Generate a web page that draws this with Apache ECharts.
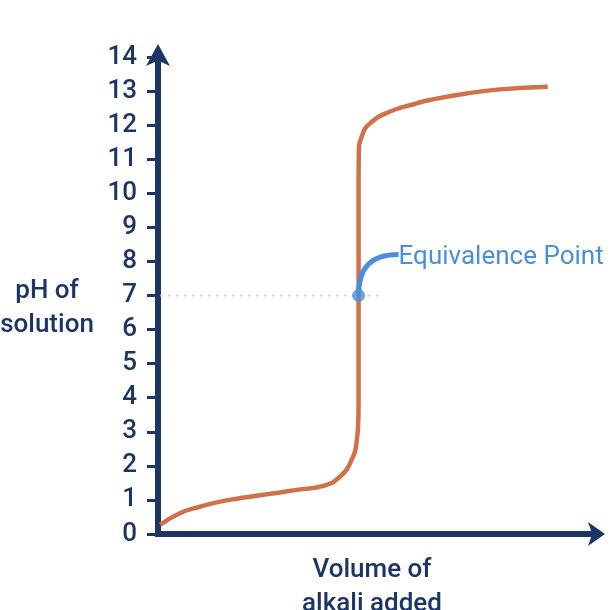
<!DOCTYPE html>
<html>
<head>
<meta charset="utf-8">
<script src="https://cdn.jsdelivr.net/npm/echarts@6/dist/echarts.min.js"></script>
<style>
  html, body { margin: 0; padding: 0; background: #fff; }
  #main { width: 614px; height: 610px; }
</style>
</head>
<body>
<div id="main"></div>
<script>
// titration curve (x = volume, arbitrary 0-100)
var volume = [0.5, 5, 9.6, 14.2, 18.8, 23.3, 27.9, 32.5, 37.8, 41.6, 44.3, 45.5, 45.85, 45.9,
  45.9, 45.9, 45.95, 46.6, 48.5, 53.1, 59.2, 62.2, 70.6, 78.3, 89.2]
var ph = [0.27, 0.61, 0.8, 0.95, 1.05, 1.14, 1.22, 1.31, 1.41, 1.68, 2.17, 2.76, 3.44, 3.93,
  7, 10.39, 11.17, 11.66, 12.05, 12.4, 12.64, 12.74, 12.93, 13.05, 13.13]
var yTicks = [0, 1, 2, 3, 4, 5, 6, 7, 8, 9, 10, 11, 12, 13, 14]
var eqPoint = [45.9, 7]
var guideX = [0.5, 51.5]

var navy = '#1b3566'
var orange = '#d0714b'
var blue = '#4b8edb'
var font = 'Roboto'

var curve = volume.map(function (v, i) { return [v, ph[i]] })
var guide = guideX.map(function (v) { return [v, eqPoint[1]] })

var myChart = echarts.init(document.getElementById('main'))
myChart.setOption({
  animation: false,
  grid: { left: 158, right: 19, top: 57, bottom: 76 },
  xAxis: {
    type: 'value',
    min: 0,
    max: 100,
    axisLine: {
      show: true,
      symbol: ['none', 'arrow'],
      symbolSize: [18, 17],
      symbolOffset: [0, 10],
      lineStyle: { color: navy, width: 6, cap: 'square' }
    },
    axisTick: { show: false },
    axisLabel: { show: false },
    splitLine: { show: false }
  },
  yAxis: {
    type: 'value',
    min: yTicks[0],
    max: yTicks[yTicks.length - 1],
    interval: 1,
    axisLine: {
      show: true,
      symbol: ['none', 'arrow'],
      symbolSize: [18, 22],
      symbolOffset: [0, 13],
      lineStyle: { color: navy, width: 6, cap: 'square' }
    },
    axisTick: { show: true, length: 11, lineStyle: { color: navy, width: 3 } },
    axisLabel: { color: navy, fontSize: 26, fontFamily: font, fontWeight: 500, margin: 21 },
    splitLine: { show: false }
  },
  series: [
    {
      // dotted guide at pH 7
      type: 'line',
      data: guide,
      symbol: 'none',
      silent: true,
      lineStyle: { color: '#cfcfcf', width: 2, type: [2, 6] },
      z: 1
    },
    {
      type: 'line',
      data: curve,
      symbol: 'none',
      smooth: 0.5,
      lineStyle: { color: orange, width: 4.5 },
      z: 2
    },
    {
      type: 'scatter',
      data: [eqPoint],
      symbol: 'circle',
      symbolSize: 13,
      itemStyle: { color: blue },
      z: 4
    }
  ]
})

// annotation and axis titles
var p = myChart.convertToPixel({ seriesIndex: 2 }, eqPoint)
myChart.setOption({
  graphic: [
    {
      type: 'bezierCurve',
      shape: {
        x1: p[0], y1: p[1],
        cpx1: p[0], cpy1: p[1] - 28,
        cpx2: p[0] + 12, cpy2: p[1] - 41,
        x2: p[0] + 40, y2: p[1] - 41
      },
      style: { stroke: blue, lineWidth: 5, fill: null },
      z: 3
    },
    {
      type: 'text',
      x: p[0] + 40,
      y: p[1] - 38,
      style: {
        text: 'Equivalence Point',
        fill: blue,
        font: '26px ' + font,
        textAlign: 'left',
        textVerticalAlign: 'middle'
      }
    },
    {
      type: 'text',
      x: 47,
      y: 308,
      style: {
        text: 'pH of\nsolution',
        fill: navy,
        font: '500 26px ' + font,
        lineHeight: 34,
        textAlign: 'center',
        textVerticalAlign: 'middle'
      }
    },
    {
      type: 'text',
      x: 372,
      y: 587,
      style: {
        text: 'Volume of\nalkali added',
        fill: navy,
        font: '500 26px ' + font,
        lineHeight: 34,
        textAlign: 'center',
        textVerticalAlign: 'middle'
      }
    }
  ]
})
</script>
</body>
</html>
